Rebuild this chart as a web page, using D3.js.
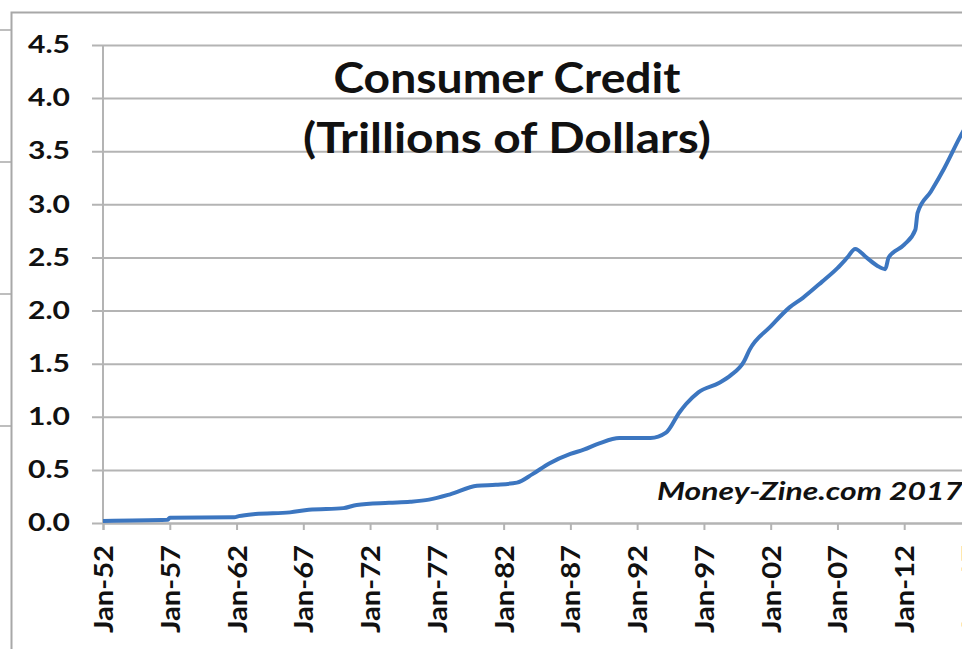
<!DOCTYPE html>
<html>
<head>
<meta charset="utf-8">
<script src="https://cdn.jsdelivr.net/npm/d3@7"></script>
<style>
  body { margin: 0; background: #fff; }
  text { font-family: Lato, "Open Sans", sans-serif; font-weight: bold; fill: #111; }
</style>
</head>
<body>
<svg id="chart" width="962" height="649"></svg>
<script>
// consumer credit outstanding, trillions of dollars
var months = ["1952-01","1956-11","1957-01","1961-11","1962-03","1963-06","1966-01","1967-06",
  "1970-01","1971-01","1973-06","1975-01","1976-06","1978-01","1980-01","1981-06","1983-01",
  "1984-03","1985-06","1987-01","1988-01","1989-03","1990-09","1991-06","1993-01","1994-03",
  "1995-03","1995-09","1996-08","1998-03","1999-01","2000-01","2000-06","2002-01","2003-06",
  "2004-06","2005-11","2007-01","2007-10","2008-05","2009-03","2010-01","2010-08","2010-11",
  "2012-01","2012-11","2013-01","2014-01","2015-01","2016-03","2017-01"];
var credit = [0.02,0.03,0.05,0.055,0.065,0.085,0.10,0.125,
  0.14,0.17,0.19,0.20,0.22,0.27,0.35,0.36,0.38,
  0.46,0.56,0.65,0.69,0.75,0.80,0.80,0.80,0.85,
  1.04,1.12,1.23,1.32,1.39,1.52,1.63,1.85,2.03,
  2.12,2.27,2.40,2.50,2.58,2.50,2.42,2.39,2.50,
  2.62,2.76,2.92,3.12,3.34,3.63,3.82];

var tickYears = [1952,1957,1962,1967,1972,1977,1982,1987,1992,1997,2002,2007,2012,2017];
var yTicks = [0,0.5,1,1.5,2,2.5,3,3.5,4,4.5];
var titleLines = ["Consumer Credit", "(Trillions of Dollars)"];
var sourceNote = "Money-Zine.com 2017";

var svg = d3.select("#chart");
var parse = d3.timeParse("%Y-%m");
var data = months.map(function(m, i) { return {date: parse(m), value: credit[i]}; });

var plotLeft = 103, plotTop = 45, plotBottom = 523;

var x = d3.scaleTime()
  .domain([new Date(1952, 0, 1), new Date(2017, 0, 1)])
  .range([plotLeft, 971]);
var y = d3.scaleLinear()
  .domain([0, 4.5])
  .range([plotBottom, plotTop]);

// outer chart frame and the sheet lines left of it
svg.selectAll(".sheet")
  .data([30, 162, 294, 426])
  .enter().append("line")
  .attr("x1", 0).attr("x2", 11)
  .attr("y1", function(d) { return d; }).attr("y2", function(d) { return d; })
  .attr("stroke", "#a8a8a8").attr("stroke-width", 1.5);
svg.append("path")
  .attr("d", "M11.5,649V12.5H962")
  .attr("fill", "none")
  .attr("stroke", "#a8a8a8")
  .attr("stroke-width", 2);

// gridlines + y axis
var yAxis = svg.append("g")
  .attr("transform", "translate(" + plotLeft + ",0)")
  .call(d3.axisLeft(y).tickValues(yTicks).tickSize(-(962 - plotLeft)).tickPadding(33)
    .tickFormat(d3.format(".1f")));
yAxis.select(".domain").remove();
yAxis.selectAll(".tick line").attr("stroke", "#b4b4b4").attr("stroke-width", 2)
  .attr("x1", -11);
yAxis.selectAll(".tick text")
  .style("font-size", "24px")
  .attr("fill", "#111")
  .attr("textLength", 42)
  .attr("lengthAdjust", "spacingAndGlyphs");

svg.append("line")
  .attr("x1", plotLeft).attr("x2", plotLeft).attr("y1", plotTop).attr("y2", plotBottom)
  .attr("stroke", "#b4b4b4").attr("stroke-width", 2);

// x axis
var xAxis = svg.append("g")
  .attr("transform", "translate(0," + plotBottom + ")")
  .call(d3.axisBottom(x)
    .tickValues(tickYears.map(function(yr) { return new Date(yr, 0, 1); }))
    .tickSize(7)
    .tickFormat(d3.timeFormat("%b-%y")));
xAxis.select(".domain").attr("stroke", "#b4b4b4").attr("stroke-width", 2);
xAxis.selectAll(".tick line").attr("stroke", "#b4b4b4").attr("stroke-width", 2);
xAxis.selectAll(".tick text")
  .style("font-size", "27px")
  .attr("fill", "#111")
  .attr("text-anchor", "end")
  .attr("dy", "0.35em")
  .attr("transform", "translate(0,22) rotate(-90)")
  .attr("x", 0).attr("y", 0)
  .attr("textLength", 88)
  .attr("lengthAdjust", "spacingAndGlyphs");

// series
svg.append("path")
  .datum(data)
  .attr("fill", "none")
  .attr("stroke", "#3c76c0")
  .attr("stroke-width", 4)
  .attr("stroke-linejoin", "round")
  .attr("d", d3.line()
    .curve(d3.curveMonotoneX)
    .x(function(d) { return x(d.date); })
    .y(function(d) { return y(d.value); }));

// title
var titleWidths = [347, 408];
svg.selectAll(".title")
  .data(titleLines)
  .enter().append("text")
  .attr("class", "title")
  .attr("x", 507)
  .attr("y", function(d, i) { return 93 + i * 60; })
  .attr("text-anchor", "middle")
  .style("font-size", "42px")
  .attr("textLength", function(d, i) { return titleWidths[i]; })
  .attr("lengthAdjust", "spacingAndGlyphs")
  .text(function(d) { return d; });

svg.append("text")
  .attr("x", 657).attr("y", 500)
  .style("font-size", "25px")
  .style("font-style", "italic")
  .attr("textLength", 306)
  .attr("lengthAdjust", "spacingAndGlyphs")
  .text(sourceNote);
</script>
</body>
</html>
